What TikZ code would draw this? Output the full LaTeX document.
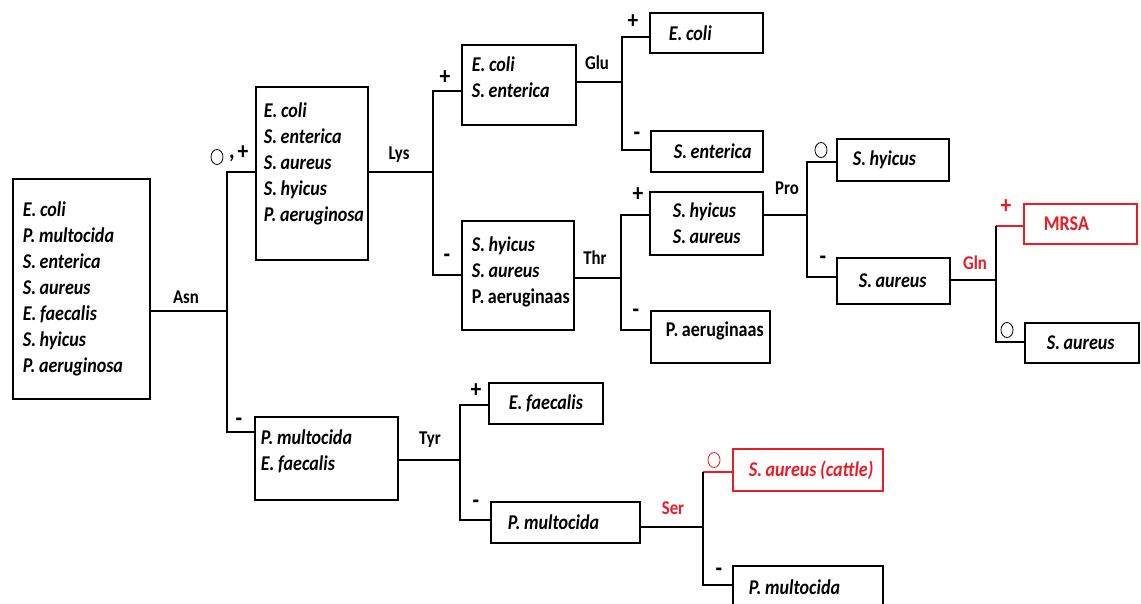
\documentclass[tikz,border=0pt]{standalone}
\usepackage{fontspec}
\setmainfont{Carlito}[FakeStretch=0.86]
\usetikzlibrary{shapes.geometric}
\definecolor{myred}{RGB}{235,28,36}
\newcommand\lowpad[1]{\rule[-#1]{0pt}{#1}}
\newcommand\gap{\kern0.17em\relax}
\frenchspacing
\begin{document}
\begin{tikzpicture}[x=1pt,y=-1pt,
 box/.style={draw, line width=1.8pt, anchor=north west, align=left, inner ysep=0pt,
   font=\fontsize{21}{26}\selectfont\bfseries\itshape,
   execute at begin node={\hyphenpenalty=10000\exhyphenpenalty=10000\frenchspacing}},
 redbox/.style={box, draw=myred, text=myred},
 lbl/.style={font=\fontsize{19.5}{22}\selectfont\bfseries, inner sep=0pt},
 sgn/.style={font=\fontsize{25}{25}\selectfont\bfseries, inner sep=0pt},
 circ/.style={draw, ellipse, line width=0.8pt, minimum width=12pt, minimum height=15pt, inner sep=0pt},
 conn/.style={line width=1.8pt},
]
\useasboundingbox (0,0) rectangle (1141,603);
\clip (0,0) rectangle (1141,603);

% boxes
\node[box, inner xsep=10pt, text width=117pt, minimum height=220pt] (A) at (12,178)
  {E.\gap coli\\P.\gap multocida\\S.\gap enterica\\S.\gap aureus\\E.\gap faecalis\\S.\gap hyicus\\P.\gap aeruginosa};
\node[box, inner xsep=8pt, text width=96pt, minimum height=173pt] (B) at (255,86)
  {E.\gap coli\\S.\gap enterica\\S.\gap aureus\\S.\gap hyicus\\P.\gap aeruginosa\lowpad{22pt}};
\node[box, inner xsep=10pt, text width=94pt, minimum height=80pt] (C) at (461,44)
  {E.\gap coli\\S.\gap enterica\lowpad{16pt}};
\node[box, inner xsep=19pt, text width=75pt, minimum height=40pt] (D) at (649,12) {E.\gap coli};
\node[box, inner xsep=23pt, text width=66pt, minimum height=41pt] (E) at (650,130) {S.\gap enterica};
\node[box, inner xsep=10pt, text width=92pt, minimum height=109pt] (F) at (461,220)
  {S.\gap hyicus\\S.\gap aureus\\{\upshape P.\gap aeruginaas}\lowpad{11pt}};
\node[box, inner xsep=23pt, text width=67pt, minimum height=63pt] (G) at (649,191)
  {S.\gap hyicus\\S.\gap aureus};
\node[box, inner xsep=15pt, text width=89pt, minimum height=52pt] (H) at (650,310)
  {{\upshape P.\gap aeruginaas}\lowpad{16pt}};
\node[box, inner xsep=16pt, text width=80pt, minimum height=42pt] (I) at (836,138) {S.\gap hyicus};
\node[box, inner xsep=22pt, text width=69pt, minimum height=46pt] (J) at (836,257) {S.\gap aureus};
\node[redbox, inner xsep=20pt, text width=73pt, minimum height=40pt] (K) at (1023,203) {\upshape MRSA};
\node[box, inner xsep=22pt, text width=70pt, minimum height=40pt] (L) at (1024,322) {S.\gap aureus};
\node[box, inner xsep=6pt, text width=131pt, minimum height=83pt] (M) at (254,416)
  {P.\gap multocida\\E.\gap faecalis\lowpad{16pt}};
\node[box, inner xsep=20pt, text width=74pt, minimum height=41pt] (N) at (488,382) {E.\gap faecalis};
\node[box, inner xsep=17pt, text width=115pt, minimum height=41pt] (O) at (490,501) {P.\gap multocida};
\node[redbox, inner xsep=16pt, text width=118pt, minimum height=42pt] (P) at (732,448) {S.\gap aureus\gap(cattle)};
\node[box, inner xsep=16pt, text width=118pt, minimum height=42pt] (Q) at (732,565) {P.\gap multocida};

% junctions
\coordinate (jAsn) at (227,311);
\coordinate (jLys) at (433,172);
\coordinate (jGlu) at (622,82);
\coordinate (jThr) at (621,278);
\coordinate (jPro) at (807,215);
\coordinate (jGln) at (996,280);
\coordinate (jTyr) at (460,460);
\coordinate (jSer) at (703,527);

% connectors
\draw[conn] (A.east |- jAsn) -- (jAsn);
\draw[conn] (B.west |- 0,172) -| (jAsn) |- (M.west |- 0,432);
\draw[conn] (B.east |- jLys) -- (jLys);
\draw[conn] (C.west |- 0,91) -| (jLys) |- (F.west |- 0,275);
\draw[conn] (C.east |- jGlu) -- (jGlu);
\draw[conn] (D.west |- 0,37) -| (jGlu) |- (E.west |- 0,150);
\draw[conn] (F.east |- jThr) -- (jThr);
\draw[conn] (G.west |- 0,215) -| (jThr) |- (H.west |- 0,330);
\draw[conn] (G.east |- jPro) -- (jPro);
\draw[conn] (I.west |- 0,162) -| (jPro) |- (J.west |- 0,277);
\draw[conn] (J.east |- jGln) -- (jGln);
\draw[conn, myred] (K.west |- 0,226) -- (jGln |- 0,226);
\draw[conn] (jGln |- 0,226) -- (jGln) |- (L.west |- 0,342);
\draw[conn] (M.east |- jTyr) -- (jTyr);
\draw[conn] (N.west |- 0,405) -| (jTyr) |- (O.west |- 0,520);
\draw[conn] (O.east |- jSer) -- (jSer);
\draw[conn, myred] (P.west |- 0,472) -- (jSer |- 0,472);
\draw[conn] (jSer |- 0,472) -- (jSer) |- (Q.west |- 0,585);

% test labels
\node[lbl] (tAsn) at (186,297) {Asn};
\node[lbl] (tLys) at (399,155) {Lys};
\node[lbl] (tGlu) at (597,63) {Glu};
\node[lbl] (tThr) at (595,258) {Thr};
\node[lbl] (tPro) at (787,188) {Pro};
\node[lbl, text=myred] (tGln) at (975,263) {Gln};
\node[lbl] (tTyr) at (430,440) {Tyr};
\node[lbl, text=myred] (tSer) at (673,508) {Ser};

% signs
\node[circ] (oB) at (217,157) {};
\node[sgn] (cB) at (232,158) {,};
\node[sgn] (pB) at (243,153) {+};
\node[sgn] (pC) at (445,78) {+};
\node[sgn] (mF) at (447,258) {-};
\node[sgn] (pD) at (633,22) {+};
\node[sgn] (mE) at (637,136) {-};
\node[sgn] (pG) at (638,195) {+};
\node[sgn] (mH) at (636,313) {-};
\node[circ] (oI) at (821,150) {};
\node[sgn] (mJ) at (823,260) {-};
\node[sgn, text=myred] (pK) at (1006,207) {+};
\node[circ] (oL) at (1007,330) {};
\node[sgn] (mM) at (239,422) {-};
\node[sgn] (pN) at (476,391) {+};
\node[sgn] (mO) at (476,504) {-};
\node[circ, draw=myred] (oP) at (714,460) {};
\node[sgn] (mQ) at (719,572) {-};
\end{tikzpicture}
\end{document}
